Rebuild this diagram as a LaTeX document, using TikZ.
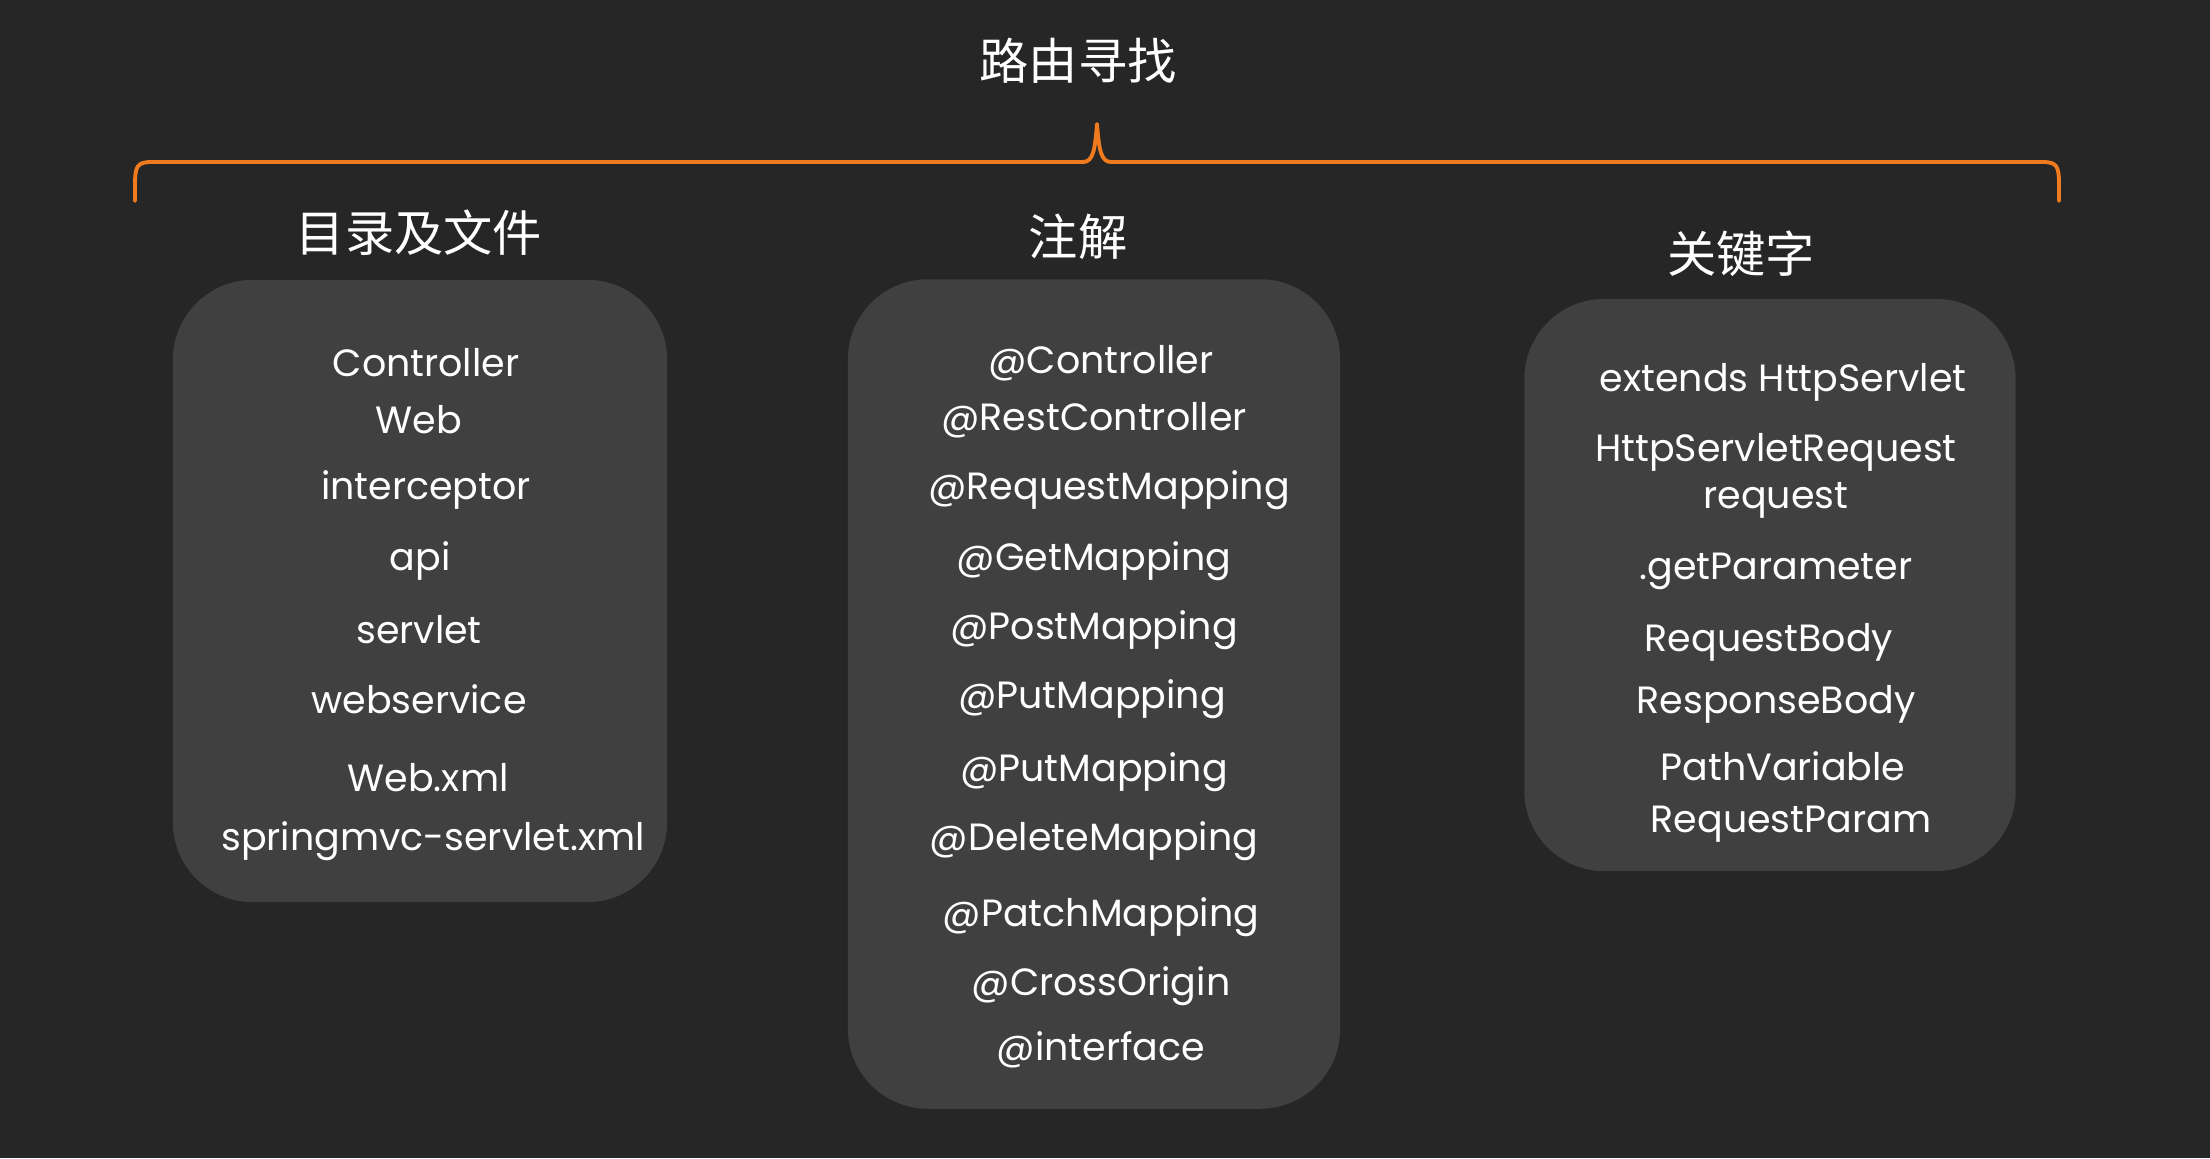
\documentclass[tikz,border=0pt]{standalone}
\usepackage{fontspec}
\setmainfont{Poppins}
\newfontfamily\cjk{Noto Sans CJK SC}
\definecolor{bgc}{HTML}{262626}
\definecolor{boxc}{HTML}{404040}
\definecolor{bracec}{HTML}{F07B1E}
\tikzset{
  panel/.style={fill=boxc, draw=none, rounded corners=0.8cm, inner sep=0pt},
  item/.style={text=white, font=\fontsize{10.8}{13}\selectfont, inner sep=0pt, anchor=center, yshift=-0.04cm},
  head/.style={text=white, font=\cjk\fontsize{14}{16}\selectfont, inner sep=0pt},
  bracel/.style={draw=bracec, line width=1.1pt, line cap=round, line join=round}
}
\begin{document}
\begin{tikzpicture}[x=0.01cm,y=-0.01cm]
\fill[bgc] (0,0) rectangle (2210,1158);
\useasboundingbox (0,0) rectangle (2210,1158);
% title and brace
\node[head] (title) at (1078,61) {路由寻找};
\coordinate (bl) at (135,201);
\coordinate (br) at (2059,201);
\coordinate (tip) at (1097,124);
\draw[bracel] (bl) -- (135,185) .. controls (135,166) and (137,162) .. (152,162) -- (1083,162) .. controls (1093,162) and (1095,150) .. (tip) .. controls (1099,150) and (1101,162) .. (1111,162) -- (2042,162) .. controls (2057,162) and (2059,166) .. (2059,185) -- (br);
% headings
\node[head] (h1) at (419,233) {目录及文件};
\node[head] (h2) at (1078,237) {注解};
\node[head] (h3) at (1741,254) {关键字};
% panels
\node[panel, minimum width=4.94cm, minimum height=6.22cm] (p1) at (420,591) {};
\node[panel, minimum width=4.92cm, minimum height=8.29cm] (p2) at (1094,694) {};
\node[panel, minimum width=4.91cm, minimum height=5.72cm] (p3) at (1770,585) {};
% panel 1
\node[item] (a1) at (426,359) {Controller};
\node[item] (a2) at (419,416) {Web};
\node[item] (a3) at (426,486) {interceptor};
\node[item] (a4) at (420,557) {api};
\node[item] (a5) at (419,626) {servlet};
\node[item] (a6) at (419,695) {webservice};
\node[item] (a7) at (428,774) {Web.xml};
\node[item] (a8) at (433,837) {springmvc-servlet.xml};
% panel 2
\node[item] (b1) at (1101,359) {@Controller};
\node[item] (b2) at (1094,416) {@RestController};
\node[item] (b3) at (1109,486) {@RequestMapping};
\node[item] (b4) at (1094,557) {@GetMapping};
\node[item] (b5) at (1094,626) {@PostMapping};
\node[item] (b6) at (1092,695) {@PutMapping};
\node[item] (b7) at (1094,768) {@PutMapping};
\node[item] (b8) at (1094,837) {@DeleteMapping};
\node[item] (b9) at (1101,913) {@PatchMapping};
\node[item] (b10) at (1101,982) {@CrossOrigin};
\node[item] (b11) at (1101,1046) {@interface};
% panel 3
\node[item] (c1) at (1783,378) {extends HttpServlet};
\node[item] (c2) at (1776,448) {HttpServletRequest};
\node[item] (c3) at (1776,496) {request};
\node[item] (c4) at (1776,567) {.getParameter};
\node[item] (c5) at (1769,638) {RequestBody};
\node[item] (c6) at (1776,700) {ResponseBody};
\node[item] (c7) at (1783,762) {PathVariable};
\node[item] (c8) at (1791,820) {RequestParam};
\end{tikzpicture}
\end{document}
